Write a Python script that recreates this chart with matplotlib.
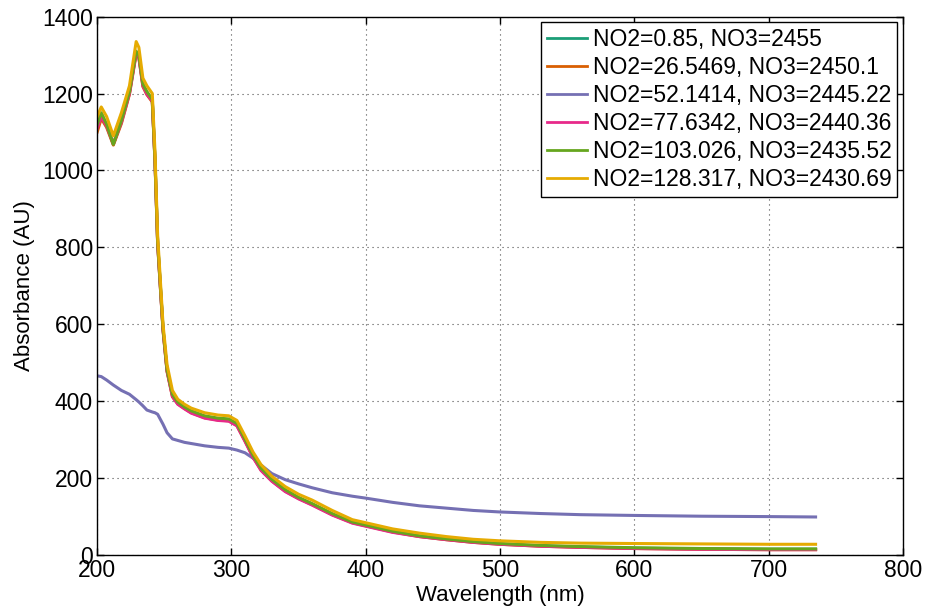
import matplotlib
matplotlib.use('Agg')
import matplotlib.pyplot as plt

plt.rcParams['font.family'] = ['Liberation Sans', 'DejaVu Sans']

# 波长网格 (nm)
wavelength = [200, 203, 207, 212, 218, 224, 229, 231, 234, 237, 241, 243, 245, 249,
              252, 256, 260, 265, 270, 280, 290, 298, 304, 310, 316, 322, 330, 340,
              350, 360, 375, 390, 400, 420, 440, 460, 480, 500, 530, 560, 600, 650,
              700, 735]

# 各样本吸光度
abs_teal = [1118, 1148, 1118, 1068, 1128, 1203, 1308, 1298, 1223, 1203, 1183, 1028, 812, 588,
            480, 416, 396, 383, 373, 360, 354, 352, 340, 300, 258, 224, 195, 168,
            148, 132, 106, 85, 77, 61, 49, 41, 34, 29, 24, 21, 18, 16, 15, 15]
abs_orange = [1100, 1135, 1112, 1066, 1122, 1198, 1303, 1293, 1218, 1197, 1178, 1024, 808, 584,
              477, 412, 393, 381, 370, 357, 351, 349, 337, 297, 255, 221, 193, 166,
              147, 131, 105, 84, 76, 60, 48, 40, 33, 28, 23, 20, 17, 15, 14, 14]
abs_purple = [466, 464, 455, 442, 428, 418, 404, 398, 388, 377, 372, 370, 366, 340,
              318, 302, 298, 293, 290, 284, 280, 278, 273, 266, 252, 234, 212, 196,
              185, 175, 162, 153, 148, 137, 128, 122, 116, 112, 108, 105, 103, 101,
              100, 99]
abs_pink = [1110, 1140, 1115, 1070, 1125, 1200, 1305, 1295, 1220, 1198, 1180, 1025, 810, 585,
            478, 412, 392, 380, 369, 356, 350, 348, 336, 296, 254, 220, 192, 165,
            146, 130, 104, 83, 75, 59, 48, 40, 33, 28, 23, 20, 17, 15, 14, 14]
abs_green = [1120, 1150, 1120, 1068, 1130, 1205, 1310, 1300, 1225, 1205, 1185, 1030, 815, 590,
             482, 418, 398, 385, 375, 362, 356, 354, 342, 302, 260, 226, 197, 170,
             150, 134, 108, 86, 78, 62, 50, 42, 35, 30, 25, 22, 19, 17, 16, 16]
abs_yellow = [1140, 1165, 1140, 1090, 1150, 1220, 1335, 1320, 1240, 1220, 1200, 1050, 830, 600,
              495, 428, 405, 392, 382, 370, 364, 362, 350, 310, 268, 235, 205, 178,
              158, 143, 116, 92, 84, 68, 57, 48, 41, 37, 33, 31, 30, 29, 28, 28]

labels = ['NO2=0.85, NO3=2455', 'NO2=26.5469, NO3=2450.1', 'NO2=52.1414, NO3=2445.22',
          'NO2=77.6342, NO3=2440.36', 'NO2=103.026, NO3=2435.52', 'NO2=128.317, NO3=2430.69']
series = [abs_teal, abs_orange, abs_purple, abs_pink, abs_green, abs_yellow]
colors = ['#1b9e77', '#d95f02', '#7570b3', '#e7298a', '#66a61e', '#e6ab02']

fig = plt.figure(figsize=(9.26, 6.14), dpi=100)
ax = fig.add_axes([0.105, 0.096, 0.870, 0.877])

for y, c, lab in zip(series, colors, labels):
    ax.plot(wavelength, y, color=c, linewidth=2.2, label=lab)

ax.set_xlim(200, 800)
ax.set_ylim(0, 1400)
ax.set_xticks(range(200, 801, 100))
ax.set_yticks(range(0, 1401, 200))
ax.grid(True, color='0.3', linestyle=(0, (1, 3.5)), linewidth=0.8)
ax.tick_params(direction='in', top=True, right=True, length=5, width=1,
               labelsize=16.5, pad=3)
for s in ax.spines.values():
    s.set_linewidth(1.0)
    s.set_color('black')

ax.set_xlabel('Wavelength (nm)', fontsize=16, labelpad=2)
ax.set_ylabel('Absorbance (AU)', fontsize=16, labelpad=5)

leg = ax.legend(loc='upper right', fontsize=16.5, frameon=True, fancybox=False,
                edgecolor='black', framealpha=1, handlelength=1.75, handletextpad=0.26,
                labelspacing=0.22, borderpad=0.25, borderaxespad=0.25)
leg.get_frame().set_linewidth(1.0)
for line in leg.get_lines():
    line.set_linewidth(2.0)

fig.savefig('out.png', dpi=100)
